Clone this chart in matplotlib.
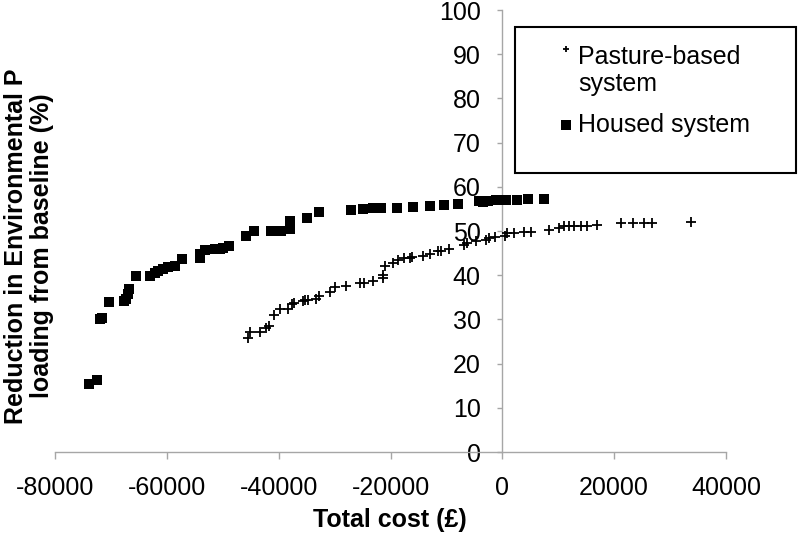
import matplotlib
matplotlib.use("Agg")
import matplotlib.pyplot as plt
from matplotlib.patches import Rectangle
from matplotlib.legend_handler import HandlerPathCollection

plt.rcParams['font.family'] = ['Liberation Sans', 'DejaVu Sans']
plt.rcParams['axes.unicode_minus'] = False

# Housed system (cost in £, reduction in %)
housed_cost = [-74000, -72400, -71900, -71600, -70400, -67600, -67300, -66900, -66800,
               -65500, -63000, -62100, -61500, -60700, -59800, -58600, -57300, -54000,
               -54000, -53100, -51300, -50500, -49900, -48900, -45800, -44400, -41300,
               -39500, -38000, -37900, -34900, -32700, -27100, -24900, -23200, -21700,
               -18900, -16000, -12900, -10400, -8000, -4200, -3400, -2600, -1100, 700,
               2600, 4600, 7500]
housed_red = [15.5, 16.4, 30.2, 30.4, 34.0, 34.2, 34.6, 35.7, 36.8,
              39.8, 39.8, 40.4, 41.0, 41.4, 41.8, 42.1, 43.6, 44.0,
              44.8, 45.7, 45.9, 46.0, 46.1, 46.7, 48.8, 50.1, 50.1,
              50.1, 50.5, 52.3, 53.0, 54.3, 54.8, 55.0, 55.2, 55.2,
              55.2, 55.4, 55.6, 55.8, 56.1, 56.7, 56.5, 56.9, 57.1, 57.1,
              57.1, 57.3, 57.3]

# Pasture-based system
pasture_cost = [-45500, -45100, -43400, -42300, -41700, -40900, -39700, -38300, -37700,
                -37300, -35700, -35300, -34800, -33300, -32800, -30800, -30000, -27900,
                -25400, -24800, -23200, -21400, -21300, -20900, -19600, -18700, -17500,
                -16600, -16100, -14200, -13000, -11500, -10900, -9500, -6800, -6400,
                -4700, -2900, -2300, -1400, 400, 900, 2100, 3900, 5100, 8400, 10200,
                11100, 12000, 12900, 14100, 15100, 17000, 21200, 23300, 25400, 26800,
                33700]
pasture_red = [25.8, 27.1, 27.1, 28.1, 28.5, 31.1, 32.3, 32.4, 33.4,
               33.8, 34.2, 34.4, 34.5, 34.7, 35.2, 36.2, 37.4, 37.6,
               38.3, 38.3, 38.7, 39.3, 40.0, 42.1, 42.7, 43.4, 43.8,
               44.0, 44.2, 44.4, 44.8, 45.4, 45.5, 45.9, 46.9, 47.4,
               47.7, 48.0, 48.4, 48.6, 48.9, 49.5, 49.5, 49.7, 49.8, 50.3, 50.6,
               51.1, 51.2, 51.2, 51.2, 51.2, 51.4, 51.7, 51.7, 51.8, 51.8,
               52.0]

x_ticks = [-80000, -60000, -40000, -20000, 0, 20000, 40000]
y_ticks = list(range(0, 101, 10))

fig = plt.figure(figsize=(7.98, 5.35), dpi=100)
ax = fig.add_axes([0.0689, 0.1551, 0.8409, 0.8262])

sc_p = ax.scatter(pasture_cost, pasture_red, marker='+', s=45, linewidths=1.3,
                  color='black', label='Pasture-based\nsystem', zorder=3)
sc_h = ax.scatter(housed_cost, housed_red, marker='s', s=42, linewidths=0,
                  color='black', label='Housed system', zorder=3)

ax.set_xlim(-80000, 40000)
ax.set_ylim(0, 100)
ax.set_xticks(x_ticks)
ax.set_yticks(y_ticks)

axis_col = '#a6a6a6'
ax.spines['left'].set_position(('data', 0))
ax.spines['top'].set_visible(False)
ax.spines['right'].set_visible(False)
for s in ('left', 'bottom'):
    ax.spines[s].set_color(axis_col)
    ax.spines[s].set_linewidth(1.0)
ax.tick_params(axis='both', colors=axis_col, labelcolor='black', labelsize=18,
               direction='out', width=1.0)
ax.tick_params(axis='y', length=3.6, pad=12)
ax.tick_params(axis='x', length=5, pad=12)

# Axis titles
fig.text(390 / 798, 1 - 520 / 535, 'Total cost (£)', ha='center', va='center',
         fontsize=18, fontweight='bold')
fig.text(29 / 798, 1 - 246 / 535, 'Reduction in Environmental P\nloading from baseline (%)',
         rotation=90, ha='center', va='center', fontsize=18, fontweight='bold',
         multialignment='center', linespacing=1.1)

# Legend box
fig.patches.append(Rectangle((515 / 798, 1 - 173 / 535), 281 / 798, 146 / 535,
                             transform=fig.transFigure, fill=False,
                             edgecolor='black', linewidth=1.5))
ax.legend(loc='upper left', bbox_to_anchor=(546 / 798, 1 - 32 / 535),
          bbox_transform=fig.transFigure, frameon=False, fontsize=18,
          handlelength=0.6, handletextpad=0.2, labelspacing=0.65, borderpad=0,
          handler_map={sc_p: HandlerPathCollection(yoffsets=[1.75], sizes=[18]),
                       sc_h: HandlerPathCollection(sizes=[50])})

fig.savefig('out.png', dpi=100)
